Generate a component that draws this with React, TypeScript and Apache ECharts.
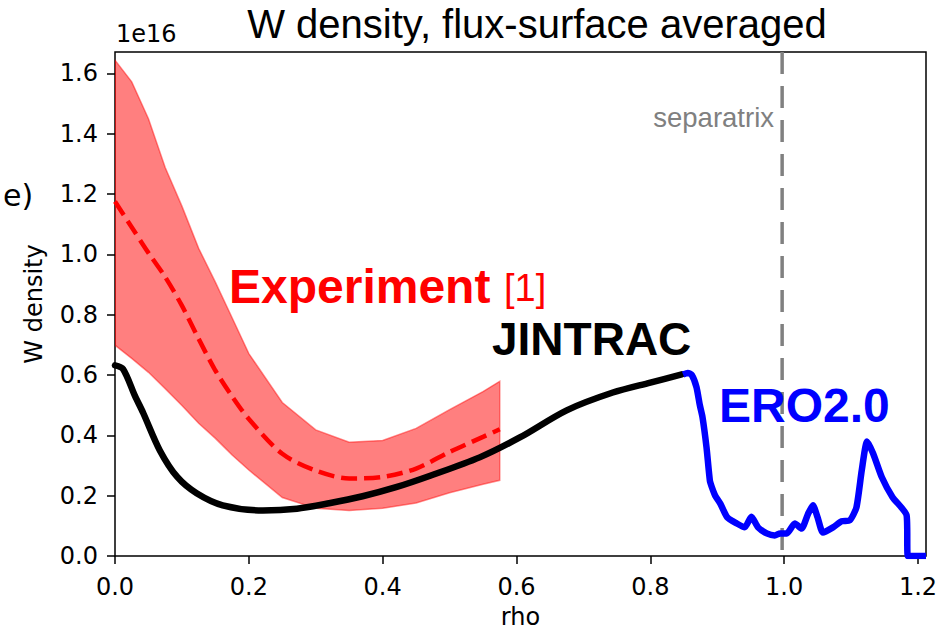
import React, { useEffect, useRef } from "react";
import * as echarts from "echarts";

// ---- data (density in units of 1e16) ----
const bandRho = [0, 0.025, 0.05, 0.075, 0.1, 0.125, 0.15, 0.175, 0.2, 0.25, 0.3, 0.35, 0.4, 0.45, 0.5, 0.55, 0.575];
const bandUpper = [1.644, 1.572, 1.45, 1.288, 1.16, 1.02, 0.908, 0.79, 0.671, 0.509, 0.418, 0.377, 0.383, 0.423, 0.485, 0.545, 0.579];
const bandLower = [0.699, 0.655, 0.609, 0.555, 0.499, 0.44, 0.39, 0.335, 0.285, 0.194, 0.158, 0.151, 0.158, 0.176, 0.21, 0.238, 0.251];
const expMean = [1.175, 1.09, 1.005, 0.925, 0.83, 0.72, 0.615, 0.529, 0.454, 0.339, 0.283, 0.257, 0.262, 0.29, 0.345, 0.395, 0.42];

const jintracRho = [0, 0.012, 0.03, 0.042, 0.067, 0.093, 0.122, 0.161, 0.221, 0.272, 0.32, 0.37, 0.42, 0.471, 0.545, 0.605, 0.675, 0.744, 0.8, 0.847];
const jintracVal = [0.632, 0.62, 0.53, 0.475, 0.35, 0.262, 0.208, 0.168, 0.151, 0.157, 0.175, 0.198, 0.228, 0.266, 0.327, 0.393, 0.483, 0.542, 0.575, 0.602];

const eroRho = [0.849, 0.856, 0.862, 0.869, 0.874, 0.878, 0.884, 0.889, 0.892, 0.897, 0.905, 0.915, 0.929, 0.941, 0.951, 0.961, 0.974, 0.986, 0.994, 1.004, 1.016, 1.026, 1.036, 1.043, 1.05, 1.058, 1.073, 1.086, 1.098, 1.108, 1.116, 1.124, 1.133, 1.146, 1.162, 1.183, 1.185, 1.212];
const eroVal = [0.602, 0.607, 0.6, 0.56, 0.5, 0.46, 0.36, 0.25, 0.228, 0.2, 0.172, 0.128, 0.108, 0.095, 0.13, 0.095, 0.075, 0.068, 0.075, 0.075, 0.108, 0.091, 0.141, 0.168, 0.128, 0.078, 0.095, 0.115, 0.118, 0.161, 0.284, 0.38, 0.34, 0.261, 0.195, 0.135, 0, 0];

const separatrixRho = 0.997;
const xTicks = [0, 0.2, 0.4, 0.6, 0.8, 1.0, 1.2];
const yTicks = [0, 0.2, 0.4, 0.6, 0.8, 1.0, 1.2, 1.4, 1.6];
const xMax = 1.212;
const yMax = 1.671;

const TICK_FONT = "DejaVu Sans";
const ANN_FONT = "Liberation Sans";

export default function App() {
  const ref = useRef<HTMLDivElement>(null);
  useEffect(() => {
    if (!ref.current) return;
    const chart = echarts.init(ref.current, undefined, { renderer: "svg" });
    const zip = (a: number[], b: number[]) => a.map((v, i) => [v, b[i]]);
    const option: any = {
      animation: false,
      backgroundColor: "#ffffff",
      grid: {
        left: 115,
        top: 52,
        right: 17,
        bottom: 74,
        show: true,
        borderColor: "#000",
        borderWidth: 1.5,
        backgroundColor: "transparent",
        containLabel: false,
        outerBoundsMode: "none",
      },
      xAxis: {
        type: "value",
        min: 0,
        max: xMax,
        interval: 0.2,
        name: "rho",
        nameLocation: "middle",
        nameGap: 48,
        nameTextStyle: { fontFamily: TICK_FONT, fontSize: 24, lineHeight: 26, color: "#000" },
        axisLine: { show: false },
        axisTick: { show: true, length: 8, inside: false, customValues: xTicks, lineStyle: { color: "#000", width: 1.5 } },
        axisLabel: {
          customValues: xTicks,
          margin: 19,
          fontFamily: TICK_FONT,
          fontSize: 24,
          color: "#000",
          formatter: (v: number) => v.toFixed(1),
        },
        splitLine: { show: false },
      },
      yAxis: {
        type: "value",
        min: 0,
        max: yMax,
        interval: 0.2,
        name: "W density",
        nameLocation: "middle",
        nameGap: 69,
        nameRotate: 90,
        nameTextStyle: { fontFamily: TICK_FONT, fontSize: 24, color: "#000" },
        axisLine: { show: false },
        axisTick: { show: true, length: 8, inside: false, customValues: yTicks, lineStyle: { color: "#000", width: 1.5 } },
        axisLabel: {
          customValues: yTicks,
          margin: 17,
          fontFamily: TICK_FONT,
          fontSize: 24,
          color: "#000",
          formatter: (v: number) => v.toFixed(1),
        },
        splitLine: { show: false },
      },
      series: [
        {
          type: "custom",
          name: "band",
          clip: true,
          z: 1,
          data: [[0, 0]],
          renderItem: (_params: any, api: any) => {
            const pts: number[][] = [];
            for (let i = 0; i < bandRho.length; i++) pts.push(api.coord([bandRho[i], bandUpper[i]]));
            for (let i = bandRho.length - 1; i >= 0; i--) pts.push(api.coord([bandRho[i], bandLower[i]]));
            return {
              type: "polygon",
              shape: { points: pts },
              style: { fill: "rgba(255,0,0,0.5)", stroke: "rgba(255,0,0,0.45)", lineWidth: 1.5 },
            };
          },
        },
        {
          type: "line",
          name: "Experiment",
          data: zip(bandRho, expMean),
          showSymbol: false,
          symbol: "none",
          smooth: 0.3,
          z: 3,
          lineStyle: { color: "#ff0000", width: 4.5, type: [16, 7] },
        },
        {
          type: "line",
          name: "JINTRAC",
          data: zip(jintracRho, jintracVal),
          symbol: "none",
          smooth: 0.3,
          z: 4,
          lineStyle: { color: "#000000", width: 6.5, cap: "round", join: "round" },
        },
        {
          type: "line",
          name: "ERO2.0",
          data: zip(eroRho, eroVal),
          symbol: "none",
          smooth: 0.2,
          z: 5,
          clip: true,
          lineStyle: { color: "#0000ff", width: 6.5, cap: "butt", join: "round" },
        },
        {
          type: "line",
          name: "separatrix",
          data: [
            [separatrixRho, yMax],
            [separatrixRho, 0],
          ],
          symbol: "none",
          z: 2,
          lineStyle: { color: "#808080", width: 3.5, type: [22, 12] },
        },
      ],
      graphic: [
        {
          type: "text",
          x: 537,
          y: 24,
          style: { text: "W density, flux-surface averaged", font: `40px "${ANN_FONT}"`, fill: "#000", textAlign: "center", textVerticalAlign: "middle" },
        },
        {
          type: "text",
          x: 116,
          y: 34,
          style: { text: "1e16", font: `24px "${TICK_FONT}"`, fill: "#000", textAlign: "left", textVerticalAlign: "middle" },
        },
        {
          type: "text",
          x: 3,
          y: 195,
          style: { text: "e)", font: `30px "${TICK_FONT}"`, fill: "#000", textAlign: "left", textVerticalAlign: "middle" },
        },
        {
          type: "text",
          x: 774,
          y: 117,
          style: { text: "separatrix", font: `27.5px "${ANN_FONT}"`, fill: "#808080", textAlign: "right", textVerticalAlign: "middle" },
        },
        {
          type: "text",
          x: 229,
          y: 286,
          z: 10,
          style: { text: "Experiment", font: `bold 48px "${ANN_FONT}"`, fill: "#ff0000", textAlign: "left", textVerticalAlign: "middle" },
        },
        {
          type: "text",
          x: 504,
          y: 288,
          z: 10,
          style: { text: "[1]", font: `38px "${ANN_FONT}"`, fill: "#ff0000", textAlign: "left", textVerticalAlign: "middle" },
        },
        {
          type: "text",
          x: 492,
          y: 339,
          z: 10,
          style: { text: "JINTRAC", font: `bold 46px "${ANN_FONT}"`, fill: "#000", textAlign: "left", textVerticalAlign: "middle" },
        },
        {
          type: "text",
          x: 719,
          y: 405,
          z: 10,
          style: { text: "ERO2.0", font: `bold 48px "${ANN_FONT}"`, fill: "#0000ff", textAlign: "left", textVerticalAlign: "middle" },
        },
      ],
    };
    chart.setOption(option);
    return () => chart.dispose();
  }, []);
  return <div ref={ref} style={{ position: "fixed", left: 0, top: 0, width: 943, height: 630 }} />;
}
